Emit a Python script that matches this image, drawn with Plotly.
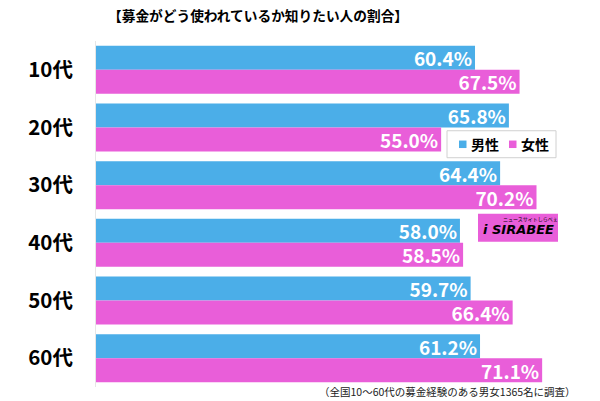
import plotly.graph_objects as go

categories = ["10代", "20代", "30代", "40代", "50代", "60代"]
male = [60.4, 65.8, 64.4, 58.0, 59.7, 61.2]
female = [67.5, 55.0, 70.2, 58.5, 66.4, 71.1]
series_names = ["男性", "女性"]
title_text = "【募金がどう使われているか知りたい人の割合】"
note_text = "（全国10～60代の募金経験のある男女1365名に調査）"

BLUE = "#4BAEE8"
PINK = "#E95ED9"
FONT = "Noto Sans CJK JP"

W, H = 600, 401
L, R, T, B = 96, 2, 41.2, 13.6
pw, ph = W - L - R, H - T - B

def px(x):
    return (x - L) / pw

def py(y):
    return (H - B - y) / ph

fig = go.Figure()
for name, vals, col in [(series_names[0], male, BLUE), (series_names[1], female, PINK)]:
    fig.add_trace(go.Bar(
        y=categories, x=vals, name=name, orientation="h",
        marker=dict(color=col, line=dict(width=0)),
        texttemplate="%{x:.1f}%", textposition="inside", insidetextanchor="end",
        textfont=dict(color="white", size=19, family=FONT, weight="bold"),
        constraintext="none", cliponaxis=False, showlegend=False,
    ))

fig.update_layout(
    width=W, height=H,
    margin=dict(l=L, r=R, t=T, b=B, autoexpand=False),
    paper_bgcolor="white", plot_bgcolor="white",
    barmode="group", bargap=0.168, bargroupgap=0,
    font=dict(family=FONT, color="black"),
    xaxis=dict(range=[0, 80], visible=False, showgrid=False, automargin=False),
    yaxis=dict(autorange="reversed", showgrid=False, ticks="", automargin=False,
               showline=True, linecolor="#e6e6e6", linewidth=1,
               tickfont=dict(size=20.5, family=FONT, color="black", weight="bold"),
               ticklabelstandoff=18),
    showlegend=False,
)

fig.add_annotation(text=title_text, xref="paper", yref="paper",
                   x=px(258), y=py(15), xanchor="center", yanchor="middle",
                   showarrow=False, font=dict(size=13.7, family=FONT, weight="bold", color="black"))
fig.add_annotation(text=note_text, xref="paper", yref="paper",
                   x=px(578), y=py(392), xanchor="right", yanchor="middle",
                   showarrow=False, font=dict(size=10.5, family=FONT, color="#222"))

# Legend (drawn manually to match the compact reference box)
fig.add_shape(type="rect", xref="paper", yref="paper",
              x0=px(447), x1=px(556), y0=py(158), y1=py(131),
              fillcolor="white", line=dict(color="#d0d0d0", width=1), layer="above")
for sx, tx, name, col in [(459, 469, series_names[0], BLUE), (509, 519, series_names[1], PINK)]:
    fig.add_shape(type="rect", xref="paper", yref="paper",
                  x0=px(sx), x1=px(sx + 7.5), y0=py(148.3), y1=py(140.8),
                  fillcolor=col, line=dict(width=0), layer="above")
    fig.add_annotation(text=name, xref="paper", yref="paper",
                       x=px(tx), y=py(144.5), xanchor="left", yanchor="middle",
                       showarrow=False,
                       font=dict(size=14, family=FONT, weight="bold", color="black"))

# SIRABEE logo
fig.add_shape(type="rect", xref="paper", yref="paper",
              x0=px(478), x1=px(558), y0=py(242), y1=py(214),
              fillcolor="#E95ED9", line=dict(width=0), layer="above")
fig.add_annotation(text="<b><i>i SIRABEE</i></b>", xref="paper", yref="paper",
                   x=px(518), y=py(230), xanchor="center", yanchor="middle",
                   showarrow=False, font=dict(size=13, family="DejaVu Sans", color="black"))
fig.add_annotation(text="ニュースサイトしらべぇ", xref="paper", yref="paper",
                   x=px(530), y=py(219), xanchor="center", yanchor="middle",
                   showarrow=False, font=dict(size=5, family=FONT, color="black"))

fig.write_html("out.html", config={"displayModeBar": False},
               post_script="document.body.style.margin='0';document.body.style.overflow='hidden';")
